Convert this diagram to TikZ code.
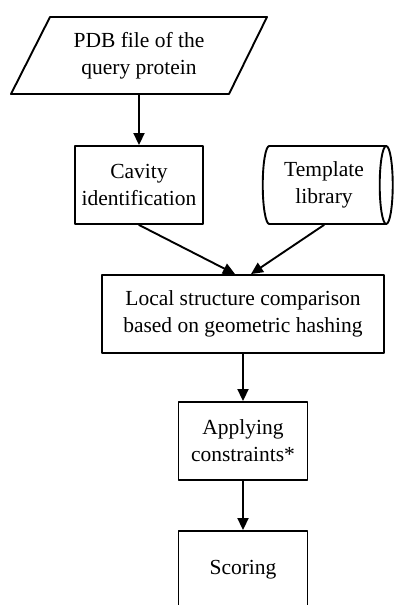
\documentclass[tikz,border=0pt]{standalone}
\usepackage{fontspec}
\setmainfont{Liberation Serif}
\usetikzlibrary{arrows.meta,shapes.geometric}

\begin{document}
\begin{tikzpicture}[line cap=round,line join=round,>={Triangle[length=12pt,width=11pt]}
  ,x=1pt,y=1pt,
  every node/.style={font=\fontsize{21.5}{27}\selectfont,align=center,inner sep=0pt},
  box/.style={draw,line width=1.9pt,minimum height=78pt},
  flow/.style={->,line width=1.9pt}]
  \useasboundingbox (0,0) rectangle (398,-605);
  \draw [line width=1.9pt] (50,-17) -- (267,-17) -- (229,-94) -- (11,-94) -- cycle;
  \node [minimum height=77pt] (pdb) at (139,-55.5) {PDB file of the\\query protein};
  \node [box,minimum width=128pt] (cavity) at (139,-185) {Cavity\\identification};
  \node [draw,line width=1.9pt,cylinder,aspect=0.28,minimum height=130pt,
    minimum width=78pt] (library) at (324,-185) {Template\\library};
  \node [box,minimum width=282pt] (local) at (243,-314) {Local structure comparison\\based on geometric hashing};
  \node [box,minimum width=129pt] (constr) at (243,-441) {Applying\\constraints*};
  \node [box,minimum width=129pt] (score) at (243,-570) {Scoring};
  \draw [flow] (pdb.south) -- (cavity.north);
  \draw [flow] (cavity.south) -- ([xshift=-8pt]local.north);
  \draw [flow] (library.south) -- ([xshift=8pt]local.north);
  \draw [flow] (local.south) -- (constr.north);
  \draw [flow] (constr.south) -- (score.north);
\end{tikzpicture}
\end{document}
